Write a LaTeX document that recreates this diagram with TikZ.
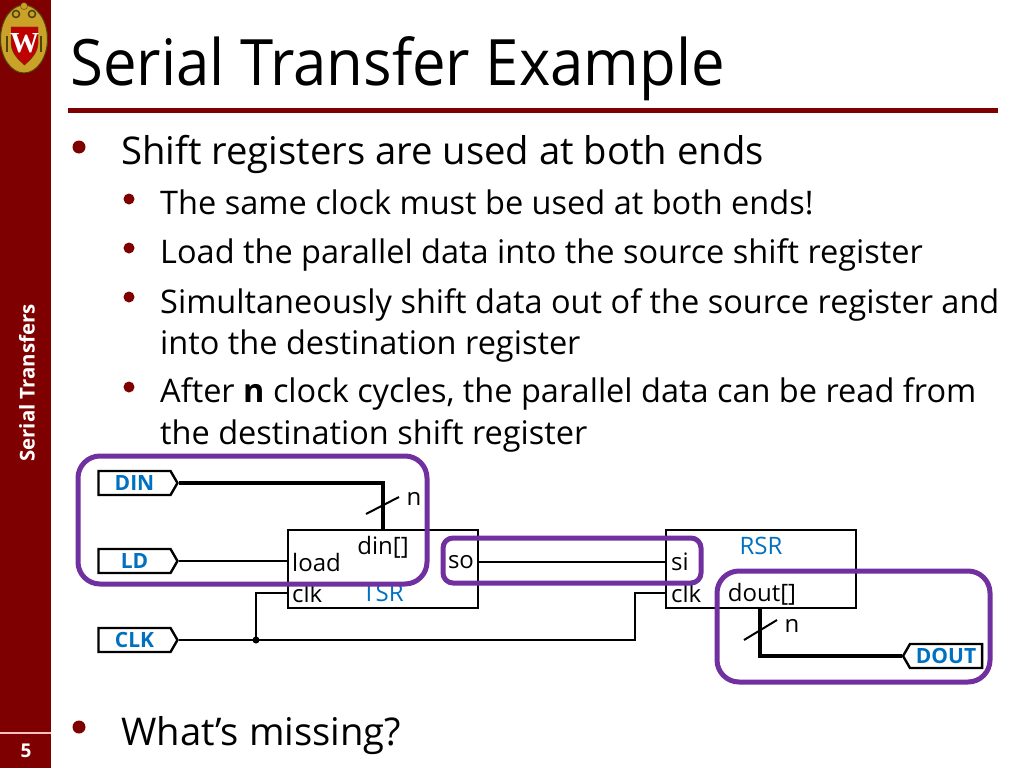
\documentclass[tikz,border=0pt]{standalone}
\usepackage{fontspec}
\setmainfont{Open Sans}
\newfontfamily\titlefont[FakeStretch=0.935]{Open Sans}
\newfontfamily\crestfont{Liberation Serif}
\usetikzlibrary{shapes.symbols,shapes.geometric,calc}
\definecolor{uwred}{HTML}{7F0000}
\definecolor{mypurple}{HTML}{7030A0}
\definecolor{myblue}{HTML}{0070C0}
\definecolor{mygold}{HTML}{C9A227}
\begin{document}
\begin{tikzpicture}[x=1pt,y=-1pt]
\tikzstyle{mytitle} = [anchor=base west, inner sep=0pt, font=\titlefont\fontsize{64}{64}\selectfont]
\tikzstyle{mytext} = [anchor=base west, inner sep=0pt, font=\fontsize{38.2}{38}\selectfont]
\tikzstyle{mysub} = [anchor=base west, inner sep=0pt, font=\fontsize{32.5}{33}\selectfont]
\tikzstyle{mydot} = [circle, minimum width=13pt, fill=uwred, inner sep=0pt]
\tikzstyle{mysmalldot} = [circle, minimum width=11pt, fill=uwred, inner sep=0pt]
\tikzstyle{mypin} = [signal, draw=black, line width=2.4pt, inner sep=0pt, minimum height=24pt, minimum width=79pt, signal pointer angle=120, text=myblue, font=\bfseries\fontsize{21}{21}\selectfont]
\tikzstyle{mybox} = [draw=black, line width=2pt, inner sep=0pt, minimum width=190pt, minimum height=78pt]
\tikzstyle{myport} = [inner sep=0pt, font=\fontsize{24}{24}\selectfont]
\tikzstyle{mywire} = [line width=2pt]
\tikzstyle{mybus} = [line width=4.5pt]
\tikzstyle{myring} = [draw=mypurple, line width=5pt, rounded corners=22pt]
\useasboundingbox (0,0) rectangle (1024,768);
% side bar
\fill[uwred] (0,0) rectangle (51,768);
\draw[white!75!red, line width=1.5pt] (0,733) -- (51,733);
\node[rotate=90, text=white, inner sep=0pt, font=\bfseries\fontsize{20.4}{20}\selectfont] (side) at (27,383) {Serial Transfers};
\node[text=white, inner sep=0pt, font=\bfseries\fontsize{19}{19}\selectfont] (page) at (26,751) {5};
% crest
\node[ellipse, draw=black!60!mygold, fill=mygold, line width=1pt, minimum width=47pt, minimum height=68pt, inner sep=0pt] (crest) at (24,39) {};
\fill[mygold, draw=black!60!mygold] (24,6) circle (3.5pt);
\draw[black!60!mygold, line width=1.5pt] (16,14) circle (3.5pt) (32,14) circle (3.5pt);
\draw[black!60!mygold, line width=1.5pt] (7,36) -- (7,52) (41,36) -- (41,52);
\fill[red!75!black, draw=black!60!mygold] (11,27) -- (38,27) -- (38,44) .. controls (37,54) and (31,59) .. (24.5,65) .. controls (18,59) and (12,54) .. (11,44) -- cycle;
\node[text=white, inner sep=0pt, font=\crestfont\bfseries\fontsize{29}{29}\selectfont] (crestw) at (24.5,43) {W};
% heading
\node[mytitle] (title) at (70,85) {Serial Transfer Example};
\draw[uwred, line width=5pt] (68,110) -- (998,110);
% bullets
\node[mydot] (b1) at (79,147) {};
\node[mytext] (t1) at (121,164) {Shift registers are used at both ends};
\node[mysmalldot] (b2) at (129,199) {};
\node[mysub] (t2) at (160,214) {The same clock must be used at both ends!};
\node[mysmalldot] (b3) at (129,248) {};
\node[mysub] (t3) at (160,263) {Load the parallel data into the source shift register};
\node[mysmalldot] (b4) at (129,297) {};
\node[mysub] (t4) at (160,313) {Simultaneously shift data out of the source register and};
\node[mysub] (t5) at (160,354) {into the destination register};
\node[mysmalldot] (b5) at (129,387) {};
\node[mysub] (t6) at (160,402) {After \textbf{n} clock cycles, the parallel data can be read from};
\node[mysub] (t7) at (160,444) {the destination shift register};
\node[mydot] (b6) at (79,727) {};
\node[mytext] (t8) at (121,745) {What’s missing?};
% pins
\node[mypin, signal to=east] (din) at (134.5,483) {DIN};
\node[mypin, signal to=east] (ld) at (134.5,561) {LD};
\node[mypin, signal to=east] (clk) at (134.5,640) {CLK};
\node[mypin, signal to=west] (dout) at (946,656) {DOUT};
% registers
\node[mybox] (tsr) at (382.5,569) {};
\node[mybox] (rsr) at (761,569) {};
\node[myport, anchor=west] (load) at (292,562) {load};
\node[myport] (dinp) at (383,547) {din[]};
\node[myport, anchor=west] (clka) at (292,593) {clk};
\node[myport, text=myblue] (tsrname) at (383,593) {TSR};
\node[myport] (so) at (461,562) {so};
\node[myport, anchor=west] (si) at (671,562) {si};
\node[myport, anchor=west] (clkb) at (671,593) {clk};
\node[myport, text=myblue] (rsrname) at (761,546) {RSR};
\node[myport] (doutp) at (762,594) {dout[]};
\node[myport] (n1) at (414,499) {n};
\node[myport] (n2) at (792,626) {n};
% wires
\coordinate (dincorner) at (383,483);
\coordinate (dinend) at (383,530);
\coordinate (doutstart) at (760,608);
\coordinate (doutcorner) at (760,656);
\coordinate (clkup) at (256,593);
\coordinate (clkjoin) at (256,640);
\coordinate (clkfar) at (635,640);
\coordinate (clkfarup) at (635,593);
\draw[mybus, line join=miter] (din.east) -- (dincorner) -- (dinend);
\draw[mybus, line join=miter] (doutstart) -- (doutcorner) -- (dout.west);
\draw[mywire] (366,514) -- (399,497);
\draw[mywire] (744,640) -- (777,620);
\draw[mywire] (ld.east) -- (tsr.west |- ld.east);
\draw[mywire] (tsr.east |- so) -- (rsr.west |- so);
\draw[mywire] (clk.east) -- (clkfar) -- (clkfarup) -- (rsr.west |- clkfarup);
\draw[mywire] (clkjoin) -- (clkup) -- (tsr.west |- clkup);
\fill (clkjoin) circle (3.5pt);
% highlight
\draw[myring] (78,456) rectangle (427,584);
\draw[myring, rounded corners=10pt] (443,538) rectangle (701,583);
\draw[myring] (717,571) rectangle (990,682);
\end{tikzpicture}
\end{document}
